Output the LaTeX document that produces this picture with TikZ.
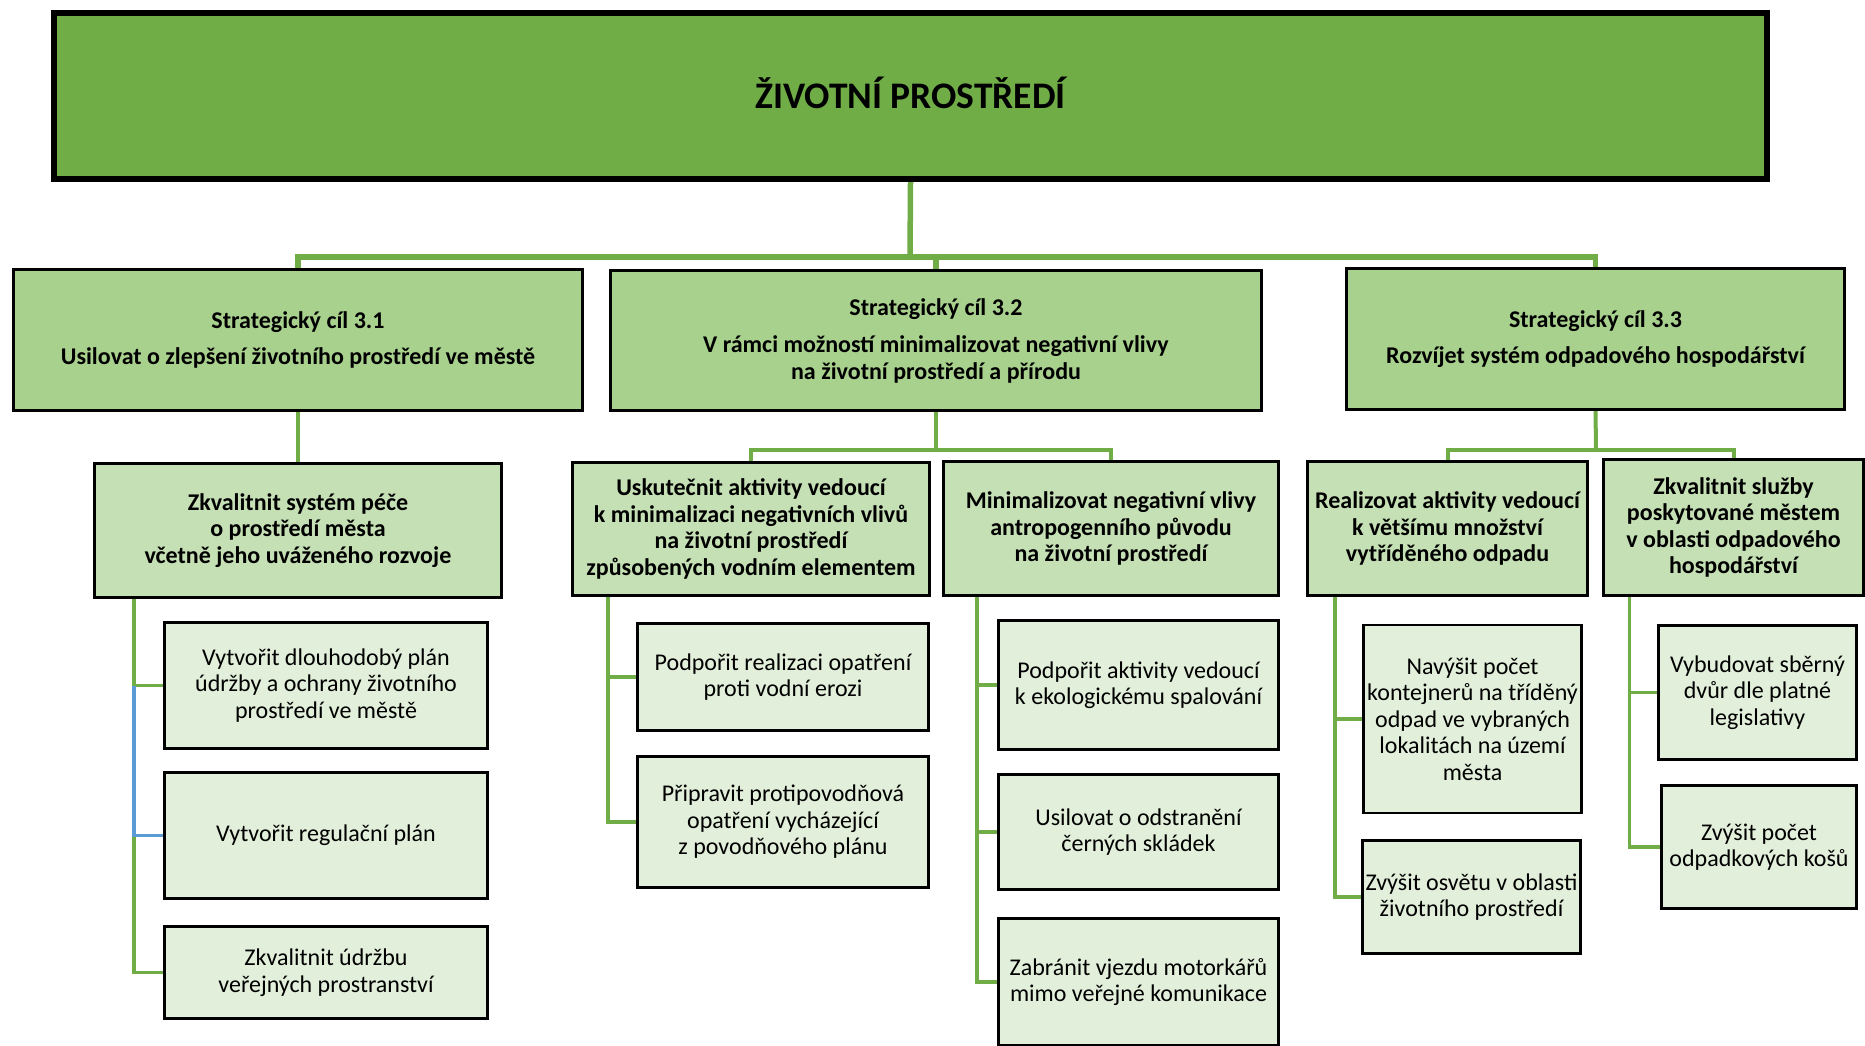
\documentclass[tikz,border=0pt]{standalone}
\usepackage{fontspec}
\setmainfont{Carlito}
\usetikzlibrary{calc,backgrounds}
\definecolor{gTop}{HTML}{70AD47}
\definecolor{gLa}{HTML}{A9D18E}
\definecolor{gLb}{HTML}{C5E0B4}
\definecolor{gLc}{HTML}{E2EFDA}
\definecolor{lineG}{HTML}{70AD47}
\definecolor{lineB}{HTML}{5B9BD5}
\begin{document}
\begin{tikzpicture}[x=1pt,y=-1pt,
  basebox/.style={draw=black, line width=2.8pt, align=center, inner sep=0pt, anchor=center,
     font=\fontsize{24}{26.5}\selectfont},
  topbox/.style={draw=black, line width=6pt, fill=gTop, inner sep=0pt},
  titletext/.style={inner sep=0pt, font=\fontsize{37.5}{42}\selectfont\bfseries},
  lvla/.style={basebox, fill=gLa, font=\fontsize{24}{26.5}\selectfont\bfseries},
  lvlb/.style={basebox, fill=gLb, font=\fontsize{24}{26.5}\selectfont\bfseries},
  lvlc/.style={basebox, fill=gLc},
  conna/.style={draw=lineG, line width=5.5pt},
  connb/.style={draw=lineG, line width=4pt},
  connc/.style={draw=lineG, line width=3.2pt},
  connblue/.style={draw=lineB, line width=3.2pt}
]
\useasboundingbox (0,0) rectangle (1865,1045);
\clip (0,0) rectangle (1865,1045);

% top
\node[topbox, minimum width=1713pt, minimum height=166pt] (top) at (910.5,96) {};
\node[titletext] (title) at (910.5,93) {ŽIVOTNÍ PROSTŘEDÍ};

% level 1
\node[lvla, minimum width=569pt, minimum height=141pt] (S31) at (298,340)
  {Strategický cíl 3.1\\[10pt]Usilovat o zlepšení životního prostředí ve městě};
\node[lvla, minimum width=651pt, minimum height=140pt] (S32) at (936,340.5)
  {Strategický cíl 3.2\\[11pt]V rámci možností minimalizovat negativní vlivy\\na životní prostředí a přírodu};
\node[lvla, minimum width=498pt, minimum height=141pt] (S33) at (1595.5,339)
  {Strategický cíl 3.3\\[10pt]Rozvíjet systém odpadového hospodářství};

% level 2
\node[lvlb, minimum width=407pt, minimum height=134pt] (A) at (298,530.5)
  {Zkvalitnit systém péče\\o prostředí města\\včetně jeho uváženého rozvoje};
\node[lvlb, minimum width=357pt, minimum height=133pt] (B) at (751,529)
  {Uskutečnit aktivity vedoucí\\k minimalizaci negativních vlivů\\na životní prostředí\\způsobených vodním elementem};
\node[lvlb, minimum width=335pt, minimum height=134pt] (C) at (1111,528.5)
  {Minimalizovat negativní vlivy\\antropogenního původu\\na životní prostředí};
\node[lvlb, minimum width=280pt, minimum height=134pt] (D) at (1447.5,528.5)
  {Realizovat aktivity vedoucí\\k většímu množství\\vytříděného odpadu};
\node[lvlb, minimum width=260pt, minimum height=136pt] (E) at (1733.5,527.5)
  {Zkvalitnit služby\\poskytované městem\\v oblasti odpadového\\hospodářství};

% level 3
\node[lvlc, minimum width=323pt, minimum height=126pt] (A1) at (326,685.5)
  {Vytvořit dlouhodobý plán\\údržby a ochrany životního\\prostředí ve městě};
\node[lvlc, minimum width=323pt, minimum height=126pt] (A2) at (326,835.5)
  {Vytvořit regulační plán};
\node[lvlc, minimum width=323pt, minimum height=92pt] (A3) at (326,972.5)
  {Zkvalitnit údržbu\\veřejných prostranství};

\node[lvlc, minimum width=291pt, minimum height=107pt] (B1) at (783,677)
  {Podpořit realizaci opatření\\proti vodní erozi};
\node[lvlc, minimum width=291pt, minimum height=131pt] (B2) at (783,822)
  {Připravit protipovodňová\\opatření vycházející\\z povodňového plánu};

\node[lvlc, minimum width=280pt, minimum height=129pt] (C1) at (1138.5,685)
  {Podpořit aktivity vedoucí\\k ekologickému spalování};
\node[lvlc, minimum width=280pt, minimum height=115pt] (C2) at (1138.5,832)
  {Usilovat o odstranění\\černých skládek};
\node[lvlc, minimum width=280pt, minimum height=127pt] (C3) at (1138.5,982)
  {Zabránit vjezdu motorkářů\\mimo veřejné komunikace};

\node[lvlc, minimum width=218pt, minimum height=188pt] (D1) at (1472.5,719)
  {Navýšit počet\\kontejnerů na tříděný\\odpad ve vybraných\\lokalitách na území\\města};
\node[lvlc, minimum width=218pt, minimum height=113pt] (D2) at (1471.5,897)
  {Zvýšit osvětu v oblasti\\životního prostředí};

\node[lvlc, minimum width=198pt, minimum height=134pt] (E1) at (1757.5,692.5)
  {Vybudovat sběrný\\dvůr dle platné\\legislativy};
\node[lvlc, minimum width=195pt, minimum height=123pt] (E2) at (1759,847)
  {Zvýšit počet\\odpadkových košů};

% connectors
\begin{scope}[on background layer]
  \coordinate (bar) at (910,257);
  \draw[conna] (top.south) -- (bar);
  \draw[conna] (S31.north) |- (bar) -| (S33.north);
  \draw[conna] (bar -| S32.north) -- (S32.north);

  \draw[connb] (S31.south) -- (A.north);
  \coordinate (barB) at (936,450);
  \draw[connb] (S32.south) -- (barB);
  \draw[connb] (B.north) |- (barB) -| (C.north);
  \coordinate (barD) at (1596,450);
  \draw[connb] (S33.south) -- (barD);
  \draw[connb] (D.north) |- (barD) -| (E.north);

  \coordinate (tA) at (134,597);
  \draw[connc] (tA) |- (A1.west);
  \draw[connc] (tA) |- (A3.west);
  \draw[connblue] (tA |- A1.west) |- (A2.west);

  \coordinate (tB) at (608,597);
  \draw[connc] (tB) |- (B1.west);
  \draw[connc] (tB) |- (B2.west);

  \coordinate (tC) at (977,597);
  \draw[connc] (tC) |- (C1.west);
  \draw[connc] (tC) |- (C2.west);
  \draw[connc] (tC) |- (C3.west);

  \coordinate (tD) at (1335,597);
  \draw[connc] (tD) |- (D1.west);
  \draw[connc] (tD) |- (D2.west);

  \coordinate (tE) at (1629.5,597);
  \draw[connc] (tE) |- (E1.west);
  \draw[connc] (tE) |- (E2.west);
\end{scope}
\end{tikzpicture}
\end{document}
